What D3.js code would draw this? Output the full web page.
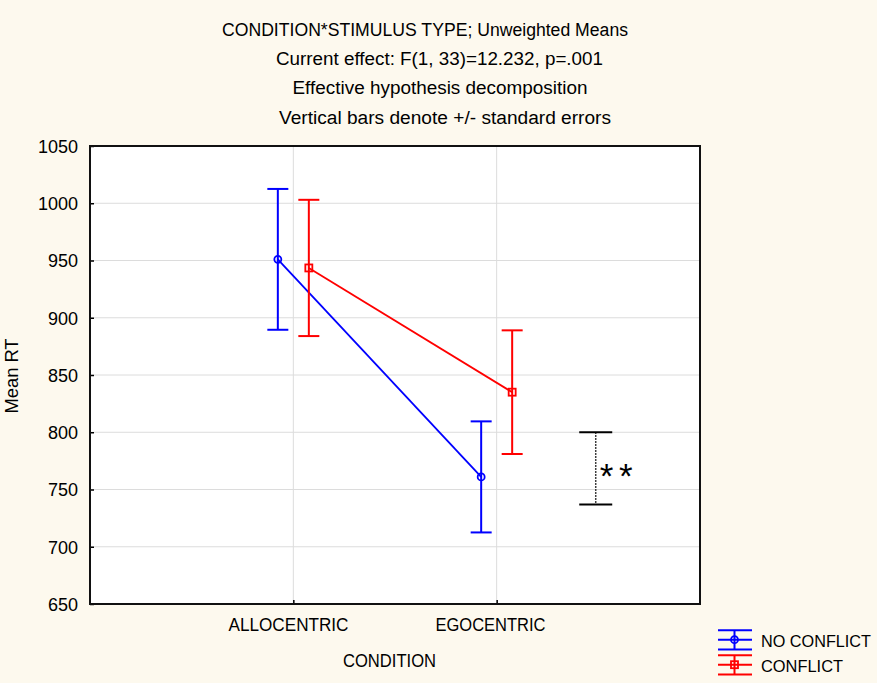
<!DOCTYPE html>
<html>
<head>
<meta charset="utf-8">
<script src="https://cdn.jsdelivr.net/npm/d3@7"></script>
<style>
  html, body { margin: 0; padding: 0; background: #fdf9ee; }
  svg { display: block; }
  text { font-family: "Liberation Sans", Arial, sans-serif; fill: #000; }
</style>
</head>
<body>
<svg id="chart" width="877" height="683"></svg>
<script>
// Cell means and standard errors, CONDITION x STIMULUS TYPE
const categories = ["ALLOCENTRIC", "EGOCENTRIC"];
const seriesNames = ["NO CONFLICT", "CONFLICT"];
const noConflictMeans = [951, 761];
const noConflictSE = [61.5, 48.5];
const conflictMeans = [943.5, 835];
const conflictSE = [59.5, 54];
const yTicks = [650, 700, 750, 800, 850, 900, 950, 1000, 1050];
const titleLines = [
  "CONDITION*STIMULUS TYPE; Unweighted Means",
  "Current effect: F(1, 33)=12.232, p=.001",
  "Effective hypothesis decomposition",
  "Vertical bars denote +/- standard errors"
];
const xTitle = "CONDITION";
const yTitle = "Mean RT";
// significance bracket between the egocentric cells
const bracketRange = [737, 800];
const bracketLabel = "**";

const svg = d3.select("#chart");
const W = 877, H = 683;
svg.append("rect").attr("width", W).attr("height", H).attr("fill", "#fdf9ee");

const plot = { left: 90, right: 700, top: 146, bottom: 604 };

// category positions 1 and 2 on a 0..3 span
const x = d3.scaleLinear().domain([0, 3]).range([plot.left, plot.right]);
const y = d3.scaleLinear().domain([650, 1050]).range([plot.bottom, plot.top]);

// plot background
svg.append("rect")
  .attr("x", plot.left).attr("y", plot.top)
  .attr("width", plot.right - plot.left).attr("height", plot.bottom - plot.top)
  .attr("fill", "#ffffff");

// gridlines
const grid = svg.append("g").attr("stroke", "#dcdcdc").attr("stroke-width", 1);
grid.selectAll("line.h").data(yTicks.slice(1, -1)).join("line")
  .attr("x1", plot.left).attr("x2", plot.right)
  .attr("y1", d => y(d)).attr("y2", d => y(d));
grid.selectAll("line.v").data(categories).join("line")
  .attr("x1", (d, i) => x(i + 1)).attr("x2", (d, i) => x(i + 1))
  .attr("y1", plot.top).attr("y2", plot.bottom);

// left axis with inward ticks
const yAxis = d3.axisLeft(y).tickValues(yTicks).tickSize(-4).tickPadding(12).tickFormat(d3.format("d"));
const gy = svg.append("g").attr("transform", `translate(${plot.left},0)`).call(yAxis);
gy.select(".domain").remove();
gy.selectAll(".tick line").attr("stroke", "#000").attr("stroke-width", 1.5);
gy.selectAll(".tick text").attr("font-size", 18).attr("font-family", "Liberation Sans, Arial, sans-serif")
  .attr("dy", "0.36em");

// bottom axis with inward ticks
const xAxis = d3.axisBottom(x).tickValues([1, 2]).tickSize(-4).tickPadding(14)
  .tickFormat(d => categories[d - 1]);
const gx = svg.append("g").attr("transform", `translate(0,${plot.bottom})`).call(xAxis);
gx.select(".domain").remove();
gx.selectAll(".tick line").attr("stroke", "#000").attr("stroke-width", 1.5);
const xLabelLen = [120, 110];
gx.selectAll(".tick text")
  .attr("font-size", 18).attr("font-family", "Liberation Sans, Arial, sans-serif")
  .attr("text-anchor", "start")
  .attr("x", (d, i) => -(x(d) - [228, 435][i]))
  .attr("dy", "0.71em")
  .attr("textLength", (d, i) => xLabelLen[i])
  .attr("lengthAdjust", "spacingAndGlyphs");

// frame
svg.append("rect")
  .attr("x", plot.left).attr("y", plot.top)
  .attr("width", plot.right - plot.left).attr("height", plot.bottom - plot.top)
  .attr("fill", "none").attr("stroke", "#111").attr("stroke-width", 2);

// titles
const titlePos = [
  { x: 222, y: 36, w: 406 },
  { x: 276, y: 65, w: 327 },
  { x: 292.5, y: 94, w: 295 },
  { x: 279, y: 124, w: 332 }
];
svg.append("g").selectAll("text").data(titleLines).join("text")
  .attr("x", (d, i) => titlePos[i].x).attr("y", (d, i) => titlePos[i].y)
  .attr("font-size", 18)
  .attr("textLength", (d, i) => titlePos[i].w)
  .attr("lengthAdjust", "spacingAndGlyphs")
  .text(d => d);

// axis titles
svg.append("text").attr("x", 343).attr("y", 667)
  .attr("font-size", 18).attr("textLength", 93).attr("lengthAdjust", "spacingAndGlyphs")
  .text(xTitle);
svg.append("text")
  .attr("transform", "translate(18,376) rotate(-90)")
  .attr("text-anchor", "middle")
  .attr("font-size", 18).attr("textLength", 75).attr("lengthAdjust", "spacingAndGlyphs")
  .text(yTitle);

// series
const series = [
  { name: seriesNames[0], means: noConflictMeans, se: noConflictSE, color: "#0000ff", dx: -15.5, marker: "circle" },
  { name: seriesNames[1], means: conflictMeans, se: conflictSE, color: "#ff0000", dx: 15.5, marker: "square" }
];
const capHalf = 10.5;

series.forEach(s => {
  const g = svg.append("g").attr("stroke", s.color).attr("fill", "none");
  const pts = s.means.map((m, i) => ({ cx: x(i + 1) + s.dx, m, se: s.se[i] }));
  // error bars
  pts.forEach(p => {
    g.append("line").attr("x1", p.cx).attr("x2", p.cx)
      .attr("y1", y(p.m + p.se)).attr("y2", y(p.m - p.se)).attr("stroke-width", 2);
    [p.m + p.se, p.m - p.se].forEach(v => {
      g.append("line").attr("x1", p.cx - capHalf).attr("x2", p.cx + capHalf)
        .attr("y1", y(v)).attr("y2", y(v)).attr("stroke-width", 2);
    });
  });
  // connecting line
  g.append("path")
    .attr("d", d3.line().x(p => p.cx).y(p => y(p.m))(pts))
    .attr("stroke-width", 1.8);
  // markers
  pts.forEach(p => {
    if (s.marker === "circle") {
      g.append("circle").attr("cx", p.cx).attr("cy", y(p.m)).attr("r", 3.5).attr("stroke-width", 1.8);
    } else {
      g.append("rect").attr("x", p.cx - 3.5).attr("y", y(p.m) - 3.5)
        .attr("width", 7).attr("height", 7).attr("stroke-width", 1.8);
    }
  });
});

// significance bracket
const bx = x(2.5) - 2.6;
const br = svg.append("g");
br.append("line").attr("x1", bx).attr("x2", bx)
  .attr("y1", y(bracketRange[1])).attr("y2", y(bracketRange[0]))
  .attr("stroke", "#000").attr("stroke-width", 1.5).attr("stroke-dasharray", "1.6,1.4");
bracketRange.forEach(v => {
  br.append("line").attr("x1", bx - 16.5).attr("x2", bx + 16.5)
    .attr("y1", y(v)).attr("y2", y(v)).attr("stroke", "#000").attr("stroke-width", 2);
});
br.append("text")
  .attr("x", bx + 4).attr("y", (y(bracketRange[0]) + y(bracketRange[1])) / 2 + 19.5)
  .attr("font-family", "Liberation Sans, Arial, sans-serif")
  .attr("font-size", 35).attr("fill", "#333")
  .attr("textLength", 33).attr("lengthAdjust", "spacing")
  .text(bracketLabel);

// legend
const legend = svg.append("g");
const legRows = [639.7, 664.7];
series.forEach((s, i) => {
  const cy = legRows[i];
  const g = legend.append("g").attr("stroke", s.color).attr("fill", "none").attr("stroke-width", 2);
  [-9.5, 0, 9.7].forEach(o => {
    g.append("line").attr("x1", 718).attr("x2", 752).attr("y1", cy + o).attr("y2", cy + o);
  });
  g.append("line").attr("x1", 734.5).attr("x2", 734.5).attr("y1", cy - 9.5).attr("y2", cy + 9.7);
  if (s.marker === "circle") {
    g.append("circle").attr("cx", 734.5).attr("cy", cy).attr("r", 3.5).attr("stroke-width", 1.8);
  } else {
    g.append("rect").attr("x", 731).attr("y", cy - 3.5).attr("width", 7).attr("height", 7).attr("stroke-width", 1.8);
  }
  legend.append("text").attr("x", 761).attr("y", cy + 7)
    .attr("font-size", 16.5)
    .attr("textLength", i === 0 ? 110 : 82).attr("lengthAdjust", "spacingAndGlyphs")
    .text(s.name);
});
</script>
</body>
</html>
